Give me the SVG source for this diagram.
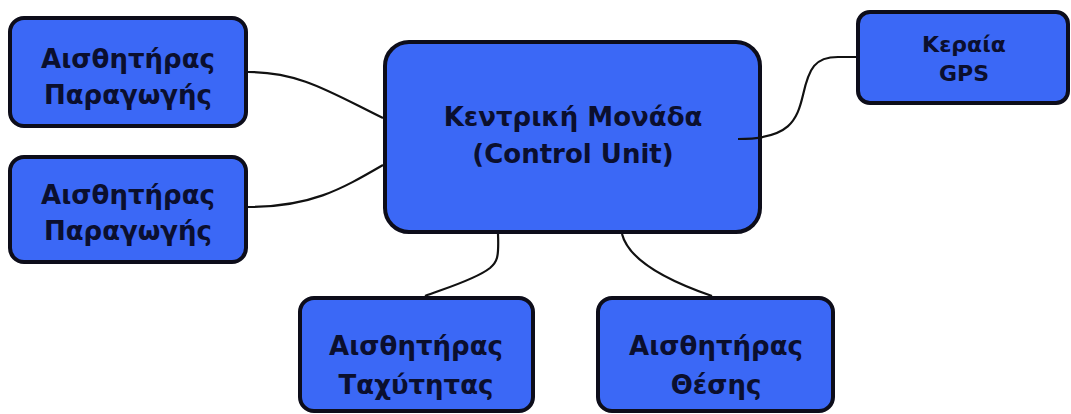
<svg xmlns="http://www.w3.org/2000/svg" width="1071" height="414" viewBox="0 0 1071 414">
<style>
.box{fill:#3b68f6;stroke:#0d0d1a;stroke-width:4}
.t{font-family:"DejaVu Sans","Liberation Sans",sans-serif;font-weight:bold;fill:#0b0f2e;text-anchor:middle}
.c{fill:none;stroke:#111;stroke-width:2.2}
</style>
<rect width="1071" height="414" fill="#ffffff"/>
<g id="sensor1">
<rect class="box" x="10" y="18" width="236" height="108" rx="14"/>
<text class="t" x="128" y="68" font-size="26">Αισθητήρας</text>
<text class="t" x="128" y="104" font-size="26">Παραγωγής</text>
</g>
<g id="sensor2">
<rect class="box" x="10" y="157" width="236" height="105" rx="14"/>
<text class="t" x="128" y="204" font-size="26">Αισθητήρας</text>
<text class="t" x="128" y="240" font-size="26">Παραγωγής</text>
</g>
<g id="control">
<rect class="box" x="385" y="42" width="375" height="190" rx="24"/>
<text class="t" x="573" y="126" font-size="26">Κεντρική Μονάδα</text>
<text class="t" x="573" y="163" font-size="26">(Control Unit)</text>
</g>
<g id="gps">
<rect class="box" x="858" y="12" width="210" height="91" rx="12"/>
<text class="t" x="964" y="52" font-size="22">Κεραία</text>
<text class="t" x="964" y="81" font-size="22">GPS</text>
</g>
<g id="speed">
<rect class="box" x="300" y="298" width="233" height="113" rx="14"/>
<text class="t" x="416" y="355" font-size="26">Αισθητήρας</text>
<text class="t" x="416" y="394" font-size="26">Ταχύτητας</text>
</g>
<g id="position">
<rect class="box" x="598" y="298" width="235" height="113" rx="14"/>
<text class="t" x="716" y="355" font-size="26">Αισθητήρας</text>
<text class="t" x="716" y="394" font-size="26">Θέσης</text>
</g>
<g id="connectors">
<path class="c" d="M248,72 C300,72 330,92 383,118"/>
<path class="c" d="M248,207 C310,207 340,190 383,165"/>
<path class="c" d="M498,234 C499,258 497,262 490,268 C475,280 440,290 425,296"/>
<path class="c" d="M622,234 C630,265 680,285 712,296"/>
<path class="c" d="M738,139 C790,139 797,120 803,95 C809,68 815,57 838,57 L856,57"/>
</g>
</svg>
